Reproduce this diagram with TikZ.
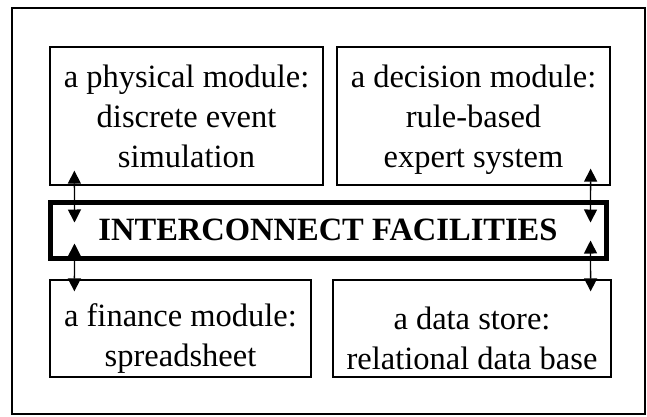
\documentclass[tikz,border=0pt]{standalone}
\usepackage{fontspec}
\setmainfont{Liberation Serif}
\usetikzlibrary{arrows.meta,calc}

\begin{document}
\begin{tikzpicture}[x=1pt, y=-1pt, line join=miter,
    >={Triangle[length=13pt, width=13pt]},
    module/.style={draw, line width=1.3pt, inner sep=0pt, align=center,
      font=\fontsize{32.5}{40}\selectfont},
    link/.style={<->, line width=1.3pt}]
    \useasboundingbox (0,0) rectangle (647,416);
    \draw [line width=1.8pt] (12,8) rectangle (645,414);
    % the four modules
    \node [module, minimum width=273pt, minimum height=138pt] (phys) at (186.5,116)
      {a physical module:\\discrete event\\simulation};
    \node [module, minimum width=273pt, minimum height=138pt] (decis) at (473.5,116)
      {\rule{0pt}{29.5pt}a decision module:\\rule-based\\expert system};
    \node [module, minimum width=261pt, minimum height=97pt] (fin) at (180.5,328.5)
      {\rule{0pt}{42pt}a finance module:\\spreadsheet};
    \node [module, minimum width=278pt, minimum height=97pt] (store) at (472,328.5)
      {\rule{0pt}{42pt}a data store:\\relational data base};
    % interconnect box
    \node [draw, line width=5pt, minimum width=556pt, minimum height=56pt, inner sep=0pt,
      font=\fontsize{32.5}{40}\selectfont\bfseries] (inter) at (328,230)
      {INTERCONNECT FACILITIES};
    % links
    \coordinate (pl) at ($(phys.south west)+(25,-15)$);
    \coordinate (il1) at ($(inter.north west)+(27,23)$);
    \coordinate (il2) at ($(inter.south west)+(27,-17)$);
    \coordinate (fl) at ($(fin.north west)+(25,12)$);
    \coordinate (dr) at ($(decis.south east)+(-20,-17)$);
    \coordinate (ir1) at ($(inter.north east)+(-18,23)$);
    \coordinate (ir2) at ($(inter.south east)+(-18,-20)$);
    \coordinate (sr) at ($(store.north east)+(-21,12)$);
    \draw [link] (pl) -- (il1);
    \draw [link] (il2) -- (fl);
    \draw [link] (dr) -- (ir1);
    \draw [link] (ir2) -- (sr);
\end{tikzpicture}
\end{document}
